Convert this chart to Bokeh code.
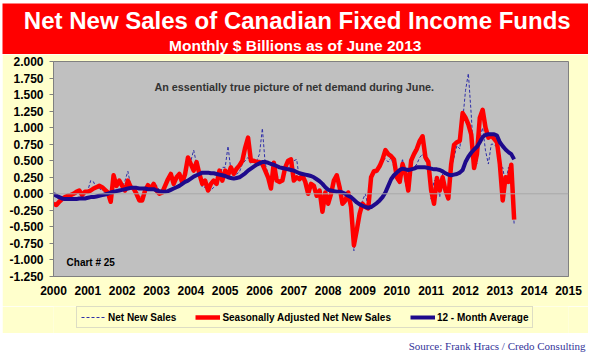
from bokeh.plotting import figure
from bokeh.models import (Range1d, FixedTicker, NumeralTickFormatter, Span, Label,
                          Legend, LegendItem, ColumnDataSource)
from bokeh.layouts import column, row
from bokeh.embed import file_html
from bokeh.resources import INLINE

# ---------------- data (monthly, Jan 2000 .. Jun 2013, $ billions) ----------------
START_YEAR = 2000

net_new_sales = [
    0.00, -0.05, -0.08, -0.05, -0.07, -0.05, -0.03, -0.02, 0.00, 0.02, -0.03, 0.02,   # 2000
    0.05, 0.20, 0.18, 0.08, 0.08, 0.05, 0.05, 0.00, -0.05, 0.20, 0.10, 0.15,          # 2001
    0.10, 0.20, 0.34, 0.12, 0.05, 0.00, -0.03, -0.05, 0.00, 0.05, 0.05, 0.12,         # 2002
    0.13, 0.05, 0.00, 0.08, 0.20, 0.25, 0.12, 0.20, 0.25, 0.18, 0.25, 0.45,           # 2003
    0.50, 0.66, 0.45, 0.25, 0.10, 0.10, 0.05, 0.05, 0.10, 0.20, 0.25, 0.40,           # 2004
    0.40, 0.72, 0.35, 0.30, 0.30, 0.33, 0.45, 0.50, 0.55, 0.45, 0.50, 0.50,           # 2005
    0.60, 0.99, 0.45, 0.30, 0.15, 0.40, 0.30, 0.18, 0.25, 0.35, 0.40, 0.40,           # 2006
    0.50, 0.52, 0.20, 0.25, 0.15, 0.05, 0.12, 0.10, 0.00, 0.00, -0.20, 0.00,          # 2007
    -0.10, 0.00, 0.20, 0.25, 0.10, -0.10, -0.15, 0.00, -0.20, -0.86, -0.50, -0.30,    # 2008
    -0.10, 0.00, -0.20, 0.20, 0.30, 0.32, 0.42, 0.50, 0.53, 0.48, 0.55, 0.40,         # 2009
    0.20, 0.30, 0.53, 0.15, 0.03, 0.35, 0.40, 0.45, 0.55, 0.60, 0.50, 0.45,           # 2010
    -0.08, 0.20, 0.20, -0.05, 0.30, 0.10, -0.08, 0.40, 0.55, 0.73, 0.68, 1.10,        # 2011
    1.56, 1.82, 1.20, 0.45, 0.45, 0.85, 1.00, 0.65, 0.45, 0.75, 0.75, 0.70,           # 2012
    0.40, 0.40, 0.14, 0.40, 0.30, -0.46,                                              # 2013
]

seasonally_adjusted = [
    -0.15, -0.17, -0.12, -0.08, -0.05, -0.03, -0.02, 0.00, 0.03, 0.05, -0.02, 0.03,   # 2000
    0.03, 0.05, 0.08, 0.10, 0.12, 0.10, 0.06, 0.02, -0.12, 0.28, 0.12, 0.20,          # 2001
    0.12, 0.05, 0.20, 0.10, 0.08, 0.00, -0.10, -0.10, 0.05, 0.13, 0.08, 0.15,         # 2002
    0.05, 0.00, 0.02, 0.12, 0.22, 0.30, 0.15, 0.25, 0.30, 0.17, 0.30, 0.55,           # 2003
    0.45, 0.35, 0.48, 0.30, 0.15, 0.20, 0.05, 0.15, 0.20, 0.15, 0.35, 0.20,           # 2004
    0.35, 0.28, 0.40, 0.30, 0.38, 0.43, 0.50, 0.70, 0.85, 0.50, 0.50, 0.48,           # 2005
    0.48, 0.45, 0.35, 0.25, 0.08, 0.47, 0.20, 0.18, 0.20, 0.40, 0.50, 0.52,           # 2006
    0.20, 0.25, 0.22, 0.28, 0.18, 0.00, 0.15, 0.12, -0.03, 0.05, -0.27, 0.02,         # 2007
    -0.15, 0.00, 0.20, 0.28, 0.10, -0.15, -0.10, 0.02, -0.20, -0.78, -0.55, -0.30,    # 2008
    -0.15, -0.20, -0.22, 0.25, 0.34, 0.35, 0.42, 0.52, 0.66, 0.60, 0.57, 0.52,        # 2009
    0.25, 0.18, 0.45, 0.30, 0.05, 0.50, 0.60, 0.68, 0.80, 0.87, 0.55, 0.48,           # 2010
    0.05, -0.15, 0.24, 0.05, 0.25, 0.05, -0.07, 0.45, 0.74, 0.78, 0.80, 1.22,         # 2011
    1.15, 1.05, 0.90, 0.39, 0.60, 1.15, 1.27, 1.00, 0.85, 0.88, 0.83, 0.78,           # 2012
    0.45, -0.10, 0.25, 0.18, 0.44, -0.39,                                             # 2013
]

twelve_month_avg = [
    0.00, -0.03, -0.05, -0.07, -0.08, -0.08, -0.08, -0.08, -0.08, -0.07, -0.07, -0.07,  # 2000
    -0.06, -0.05, -0.05, -0.04, -0.03, -0.02, -0.01, 0.00, 0.02, 0.03, 0.04, 0.05,      # 2001
    0.06, 0.07, 0.08, 0.09, 0.09, 0.09, 0.08, 0.08, 0.08, 0.07, 0.07, 0.07,             # 2002
    0.05, 0.04, 0.03, 0.03, 0.04, 0.06, 0.08, 0.10, 0.12, 0.15, 0.18, 0.20,             # 2003
    0.23, 0.26, 0.28, 0.30, 0.32, 0.32, 0.32, 0.31, 0.31, 0.30, 0.29, 0.28,             # 2004
    0.27, 0.25, 0.24, 0.23, 0.24, 0.25, 0.28, 0.31, 0.35, 0.38, 0.41, 0.44,             # 2005
    0.46, 0.48, 0.48, 0.47, 0.45, 0.44, 0.42, 0.40, 0.39, 0.38, 0.37, 0.36,             # 2006
    0.35, 0.33, 0.31, 0.30, 0.29, 0.28, 0.27, 0.25, 0.22, 0.19, 0.15, 0.10,             # 2007
    0.06, 0.05, 0.04, 0.03, 0.03, 0.02, 0.00, -0.03, -0.05, -0.09, -0.13, -0.16,        # 2008
    -0.18, -0.20, -0.21, -0.20, -0.17, -0.14, -0.10, -0.05, 0.02, 0.12, 0.22, 0.28,     # 2009
    0.32, 0.36, 0.38, 0.37, 0.36, 0.37, 0.38, 0.40, 0.40, 0.40, 0.40, 0.39,             # 2010
    0.38, 0.37, 0.37, 0.36, 0.34, 0.31, 0.29, 0.28, 0.29, 0.30, 0.32, 0.36,             # 2011
    0.48, 0.56, 0.62, 0.67, 0.71, 0.78, 0.86, 0.89, 0.90, 0.90, 0.90, 0.88,             # 2012
    0.78, 0.72, 0.67, 0.63, 0.60, 0.52,                                                 # 2013
]

year_ticks = list(range(2000, 2016))
value_ticks = [-1.25, -1.0, -0.75, -0.5, -0.25, 0.0, 0.25, 0.5, 0.75, 1.0,
               1.25, 1.5, 1.75, 2.0]

title_text = "Net New Sales of Canadian Fixed Income Funds"
subtitle_text = "Monthly $ Billions as of June 2013"
note_text = "An essentially true picture of net demand during June."
chart_no_text = "Chart # 25"
source_text = "Source: Frank Hracs / Credo Consulting"
legend_labels = ["Net New Sales", "Seasonally Adjusted Net New Sales", "12 - Month Average"]

# month positions on the year axis
months = [START_YEAR + i / 12.0 for i in range(len(seasonally_adjusted))]
src = ColumnDataSource(dict(x=months, nns=net_new_sales, sa=seasonally_adjusted,
                            avg=twelve_month_avg))

FONT = "Liberation Sans"
W = 586
BL, BR = 51, 20          # left / right borders of the chart rows
YELLOW = "#FFFFCC"
NNS_STYLE = dict(line_color="#2E2EA8", line_width=1, line_dash="3 2")
SA_STYLE = dict(line_color="#FF0000", line_width=4.5, line_join="round")
AVG_STYLE = dict(line_color="#1E0A8C", line_width=4, line_join="round")


def bare_figure(height, fill, bl=0, br=0):
    f = figure(width=W, height=height, x_range=Range1d(0, 1), y_range=Range1d(0, 1),
               toolbar_location=None, output_backend="svg",
               x_axis_location=None, y_axis_location=None,
               min_border_left=bl, min_border_right=br, min_border_top=0, min_border_bottom=0)
    f.grid.visible = False
    f.outline_line_color = None
    f.background_fill_color = fill
    f.border_fill_color = fill
    return f


# ---------------- banner (full-width frame) ----------------
banner = bare_figure(51, "#FF0000")
banner.add_layout(Label(x=0.503, y=0.665, text=title_text, text_align="center",
                        text_baseline="middle", text_color="white", text_font=FONT,
                        text_font_style="bold", text_font_size="24px"))
banner.add_layout(Label(x=0.4996, y=0.18, text=subtitle_text, text_align="center",
                        text_baseline="middle", text_color="white", text_font=FONT,
                        text_font_style="bold", text_font_size="15.5px"))

# ---------------- main chart ----------------
p = figure(width=W, height=252, x_range=Range1d(2000, 2015), y_range=Range1d(-1.25, 2.0),
           toolbar_location=None, output_backend="svg",
           min_border_left=BL, min_border_right=BR, min_border_top=7, min_border_bottom=30)
p.background_fill_color = "#C0C0C0"
p.border_fill_color = YELLOW
p.outline_line_color = "#808080"
p.outline_line_width = 1
p.grid.visible = False

p.xaxis.ticker = FixedTicker(ticks=year_ticks)
p.yaxis.ticker = FixedTicker(ticks=value_ticks)
p.yaxis.formatter = NumeralTickFormatter(format="0.000")
for ax in (p.xaxis, p.yaxis):
    ax.axis_line_color = "#808080"
    ax.major_tick_line_color = "#808080"
    ax.minor_tick_line_color = None
    ax.major_label_text_font = FONT
    ax.major_label_text_font_style = "bold"
    ax.major_label_text_font_size = "12px"
    ax.major_label_text_color = "black"
p.yaxis.major_tick_in = 0
p.yaxis.major_tick_out = 4
p.yaxis.major_label_standoff = 6
p.xaxis.major_tick_in = 0
p.xaxis.major_tick_out = 0
p.xaxis.major_label_standoff = 9

p.add_layout(Span(location=0, dimension="width", line_color="#A8A8A8", line_width=1))

p.line("x", "nns", source=src, **NNS_STYLE)
p.line("x", "sa", source=src, **SA_STYLE)
p.line("x", "avg", source=src, **AVG_STYLE)

p.add_layout(Label(x=2002.94, y=1.62, text=note_text, text_align="left", text_baseline="middle",
                   text_color="#333333", text_font=FONT, text_font_style="bold",
                   text_font_size="10.8px"))
p.add_layout(Label(x=2000.38, y=-1.04, text=chart_no_text, text_align="left",
                   text_baseline="middle", text_color="black", text_font=FONT,
                   text_font_style="bold", text_font_size="10px"))

# ---------------- legend strip ----------------
leg_fig = bare_figure(27, YELLOW, BL, BR)
g1 = leg_fig.line("x", "nns", source=src, **NNS_STYLE)
g2 = leg_fig.line("x", "sa", source=src, **SA_STYLE)
g3 = leg_fig.line("x", "avg", source=src, **AVG_STYLE)
legend = Legend(items=[LegendItem(label=legend_labels[0], renderers=[g1]),
                       LegendItem(label=legend_labels[1], renderers=[g2]),
                       LegendItem(label=legend_labels[2], renderers=[g3])],
                orientation="horizontal", location=(23, 5),
                background_fill_color=YELLOW, background_fill_alpha=1.0,
                border_line_color="#BBBBBB", border_line_width=1,
                label_text_font=FONT, label_text_font_style="bold",
                label_text_font_size="10px", label_text_color="black",
                glyph_width=25, glyph_height=12, label_height=12, label_standoff=2,
                spacing=19, padding=4, margin=0)
leg_fig.add_layout(legend)

# ---------------- footer (full-width frame) ----------------
footer = bare_figure(24, "white")
footer.add_layout(Label(x=0.995, y=0.5, text=source_text, text_align="right",
                        text_baseline="middle", text_color="#333399",
                        text_font="Liberation Serif", text_font_size="11px"))

layout = column(row(banner), p, leg_fig, row(footer), spacing=0, margin=(3, 0, 0, 2))
open("out.html", "w").write(file_html(layout, INLINE))
